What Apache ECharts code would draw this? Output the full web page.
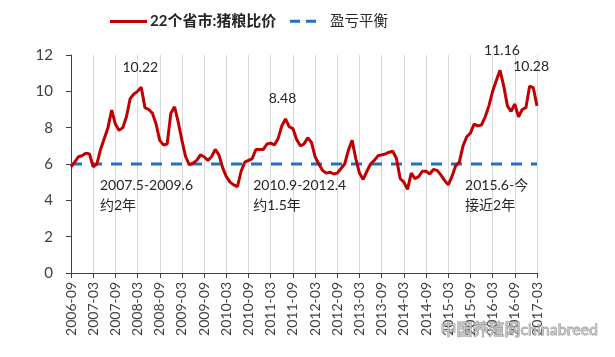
<!DOCTYPE html>
<html><head><meta charset="utf-8">
<script src="https://cdn.jsdelivr.net/npm/echarts@6/dist/echarts.min.js"></script>
<style>html,body{margin:0;padding:0;background:#fff}#c{width:615px;height:357px}</style>
</head><body><div id="c"></div>
<script>
// categories: monthly from 2006-09 to 2017-03
var startYear = 2006, startMonth = 9, monthCount = 127;
var categories = [];
for (var i = 0; i < monthCount; i++) {
  var t = startMonth - 1 + i;
  var y = startYear + Math.floor(t / 12), m = (t % 12) + 1;
  categories.push(y + '-' + (m < 10 ? '0' + m : m));
}
var seriesNames = ['22个省市:猪粮比价', '盈亏平衡'];
var pigGrainRatio = [
  5.85, 6.1, 6.4, 6.45, 6.6, 6.55, 5.85, 6.0, 6.8, 7.4,
  8.0, 8.97, 8.2, 7.85, 8.0, 8.6, 9.6, 9.85, 10.0, 10.22,
  9.1, 9.0, 8.8, 8.2, 7.3, 7.05, 7.1, 8.8, 9.15, 8.3,
  7.3, 6.4, 5.95, 6.05, 6.2, 6.5, 6.4, 6.2, 6.4, 6.8,
  6.5, 5.8, 5.3, 5.0, 4.85, 4.75, 5.6, 6.1, 6.2, 6.3,
  6.8, 6.8, 6.8, 7.1, 7.15, 7.05, 7.4, 8.1, 8.48, 8.05,
  7.95, 7.35, 7.0, 7.1, 7.45, 7.2, 6.4, 6.0, 5.65, 5.5,
  5.55, 5.45, 5.5, 5.75, 6.0, 6.75, 7.3, 6.3, 5.5, 5.15,
  5.6, 6.0, 6.2, 6.45, 6.5, 6.55, 6.65, 6.7, 6.3, 5.2,
  5.0, 4.6, 5.5, 5.2, 5.3, 5.6, 5.6, 5.45, 5.7, 5.65,
  5.4, 5.1, 4.85, 5.3, 5.9, 6.1, 7.0, 7.5, 7.7, 8.2,
  8.1, 8.15, 8.6, 9.2, 10.0, 10.6, 11.16, 10.3, 9.2, 8.9,
  9.3, 8.6, 9.0, 9.1, 10.28, 10.2, 9.2
];
var breakEvenLevel = 6;
var breakEven = categories.map(function () { return breakEvenLevel; });
var yTicks = { min: 0, max: 12, interval: 2 };

// peak annotations: [category index, x nudge, y nudge] -> text is the data value
var peakNotes = [
  [19, -1, -20],
  [58, -3, -20],
  [116, 2, -20],
  [124, 1.5, -20]
];
// period annotations: [category index, value, text, x nudge]
var periodNotes = [
  [8, 4.24, '2007.5-2009.6\n约2年', -0.6],
  [49, 4.24, '2010.9-2012.4\n约1.5年', 1],
  [107, 4.24, '2015.6-今\n接近2年', -1.7]
];

var FONT = 'Lato, "Noto Sans CJK SC", sans-serif';
var mp = [];
peakNotes.forEach(function (p) {
  var v = pigGrainRatio[p[0]];
  mp.push({ coord: [categories[p[0]], v], symbolSize: 0,
    label: { show: true, position: 'inside', formatter: String(v), offset: [p[1], p[2]],
      color: '#262626', fontSize: 14, fontFamily: FONT } });
});
periodNotes.forEach(function (p) {
  mp.push({ coord: [categories[p[0]], p[1]], symbolSize: 0,
    label: { show: true, position: 'inside', formatter: p[2], offset: [p[3], 0],
      align: 'left', verticalAlign: 'middle', lineHeight: 20,
      color: '#262626', fontSize: 14, fontFamily: FONT } });
});

var chart = echarts.init(document.getElementById('c'), null, { renderer: 'canvas' });
chart.setOption({
  animation: false,
  backgroundColor: '#fff',
  textStyle: { fontFamily: FONT },
  legend: [
    { data: [{ name: seriesNames[0], icon: 'rect' }], left: 110, top: 14, padding: 0,
      itemWidth: 37, itemHeight: 3,
      textStyle: { fontSize: 15, fontWeight: 'bold', color: '#262626', fontFamily: FONT, padding: [0, 0, 0, -2] } },
    { data: [{ name: seriesNames[1], icon: 'path://M0,0L10,0L10,3L0,3Z M16,0L26,0L26,3L16,3Z' }],
      left: 290, top: 14, padding: 0, itemWidth: 26, itemHeight: 3,
      textStyle: { fontSize: 14.5, color: '#262626', fontFamily: FONT, padding: [0, 0, 0, 9] } }
  ],
  grid: { left: 71, right: 78, top: 55, bottom: 84, containLabel: false },
  xAxis: {
    type: 'category', data: categories, boundaryGap: false,
    axisLine: { lineStyle: { color: '#404040', width: 1 } },
    axisTick: { show: true, interval: 5, length: 5, lineStyle: { color: '#404040' } },
    axisLabel: { interval: 5, rotate: 90, margin: 9, fontSize: 14, color: '#404040', fontFamily: FONT },
    splitLine: { show: true, interval: 5, lineStyle: { color: '#D9D9D9', width: 1 } }
  },
  yAxis: {
    type: 'value', min: yTicks.min, max: yTicks.max, interval: yTicks.interval,
    axisLine: { show: true, lineStyle: { color: '#404040', width: 1 } },
    axisTick: { show: true, inside: false, length: 5, lineStyle: { color: '#404040' } },
    axisLabel: { margin: 18, fontSize: 15, color: '#404040', fontFamily: FONT },
    splitLine: { show: false }
  },
  series: [
    { name: seriesNames[0], type: 'line', data: pigGrainRatio, symbol: 'none', z: 3,
      lineStyle: { color: '#C00000', width: 3 }, itemStyle: { color: '#C00000' },
      markPoint: { data: mp, silent: true } },
    { name: seriesNames[1], type: 'line', data: breakEven, symbol: 'none', z: 2,
      lineStyle: { color: '#2072C2', width: 3, type: [11, 9] }, itemStyle: { color: '#2072C2' } }
  ],
  graphic: [
    { type: 'text', left: 440, top: 321, z: 100,
      style: { text: '中国养殖网chinabreed', fontSize: 16, fontFamily: FONT,
        fill: 'rgba(200,200,200,0.85)', stroke: '#8c8c8c', lineWidth: 0.8 } }
  ]
});
</script></body></html>
